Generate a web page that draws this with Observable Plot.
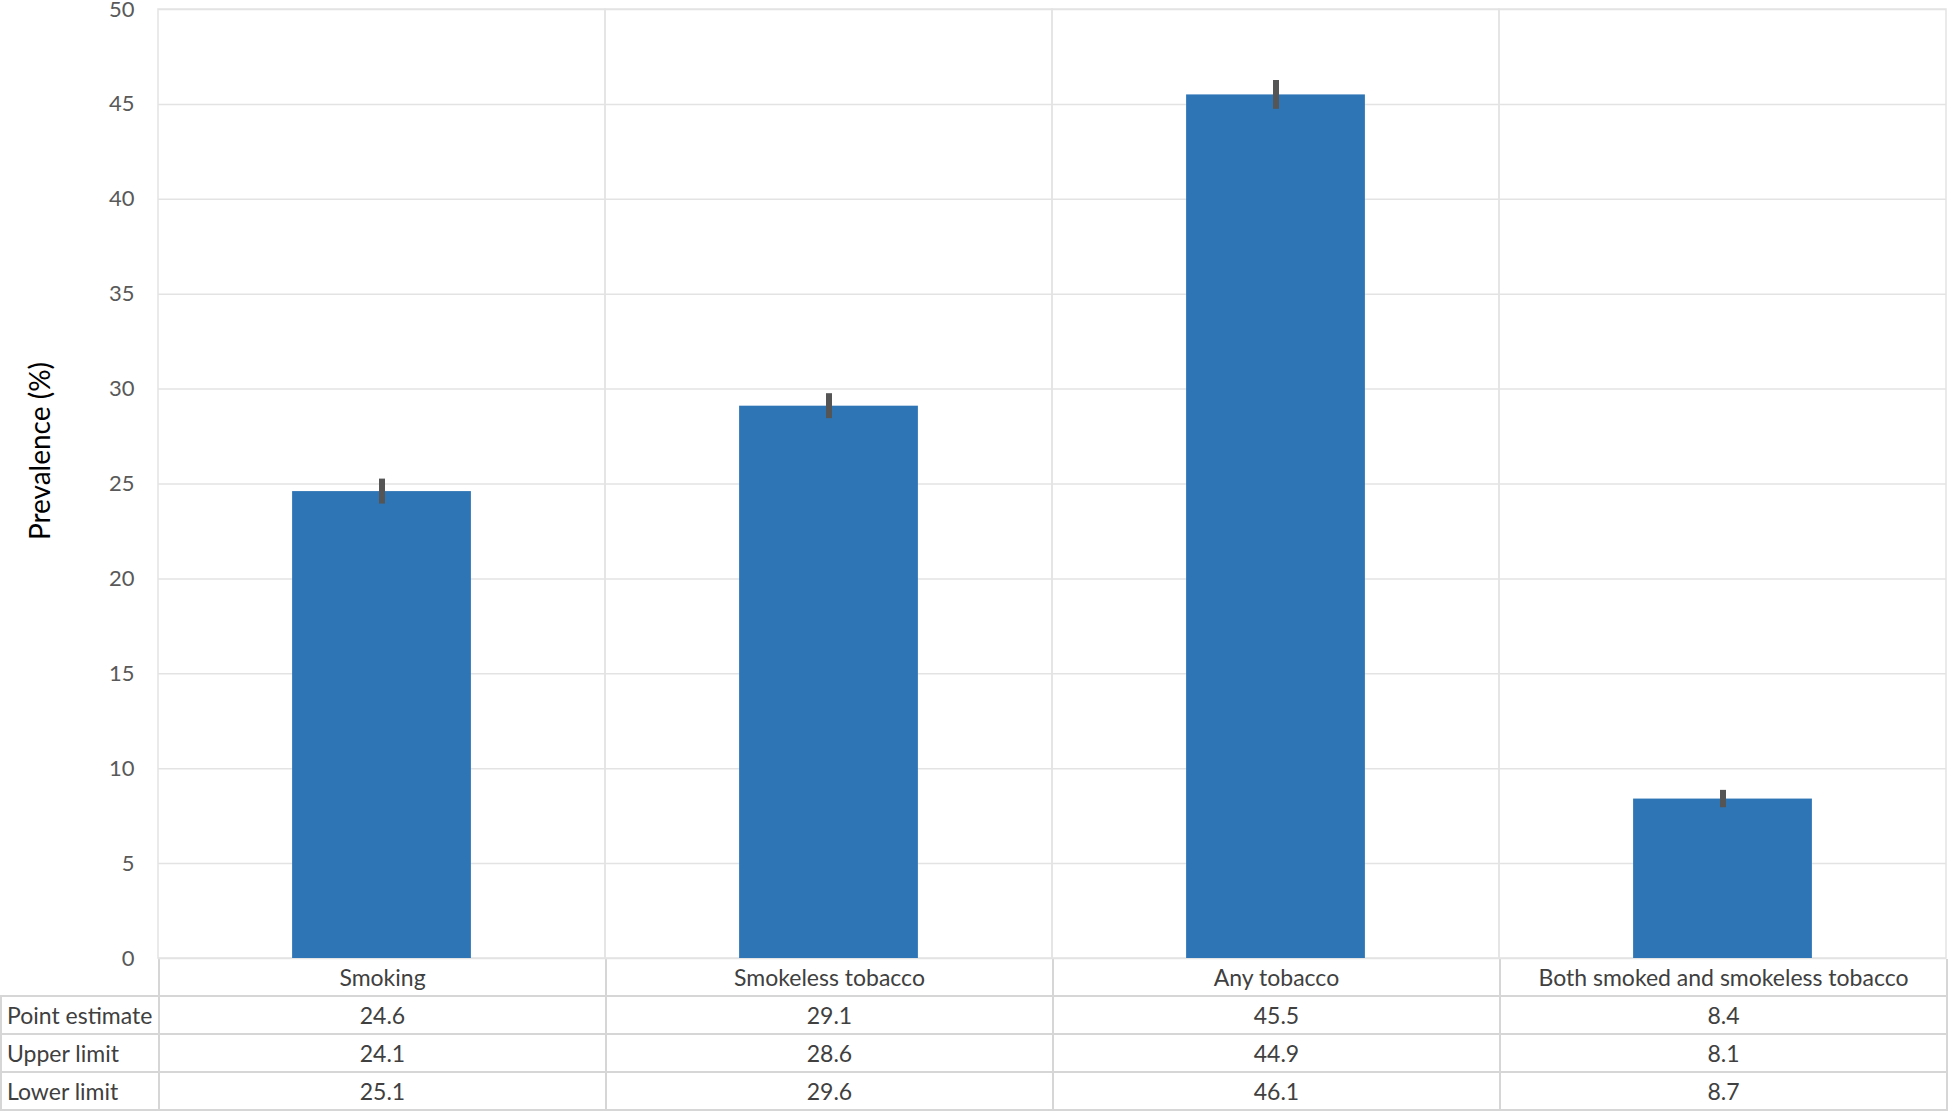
<!DOCTYPE html>
<html>
<head>
<meta charset="utf-8">
<script src="https://cdn.jsdelivr.net/npm/d3@7"></script>
<script src="https://cdn.jsdelivr.net/npm/@observablehq/plot@0.6"></script>
<style>
  html, body { margin: 0; padding: 0; background: #fff; }
  #chart { position: relative; width: 1948px; font-family: Lato, "Open Sans", sans-serif; }
  #chart svg { display: block; }
  #ylabel { position: absolute; left: 39px; top: 451px; transform: translate(-50%, -50%) rotate(-90deg); font-size: 28px; line-height: 1; color: #000; white-space: nowrap; font-family: Lato, "Open Sans", sans-serif; }
  table { border-collapse: collapse; table-layout: fixed; width: 1946px; font-family: Lato, "Open Sans", sans-serif; font-size: 23px; color: #404040; }
  td { border: 2px solid #d6d6d6; height: 36px; padding: 0; text-align: center; white-space: nowrap; overflow: hidden; }
  td.lab { text-align: left; padding-left: 5px; }
  td.blank { border: none; }
  tr.cat td { border-top: none; }
</style>
</head>
<body>
<div id="chart"></div>
<script>
// ---- data ----
const categories = ["Smoking", "Smokeless tobacco", "Any tobacco", "Both smoked and smokeless tobacco"];
const pointEstimate = [24.6, 29.1, 45.5, 8.4];
const upperLimit = [24.1, 28.6, 44.9, 8.1];
const lowerLimit = [25.1, 29.6, 46.1, 8.7];
const rowLabels = ["Point estimate", "Upper limit", "Lower limit"];
const yTicks = [0, 5, 10, 15, 20, 25, 30, 35, 40, 45, 50];
const yMax = 50;
const yLabel = "Prevalence (%)";

const data = categories.map((c, i) => ({
  category: c,
  point: pointEstimate[i],
  upper: upperLimit[i],
  lower: lowerLimit[i]
}));

// ---- layout ----
const W = 1948, mL = 158, mR = 2;
const step = (W - mL - mR) / categories.length;
const barInset = step * 0.3;
const gridColor = "#e3e3e3";

const plot = Plot.plot({
  width: W,
  height: 959,
  marginTop: 9,
  marginBottom: 1,
  marginLeft: mL,
  marginRight: mR,
  style: { fontFamily: "Lato, 'Open Sans', sans-serif", fontSize: "22px", color: "#595959", background: "#fff", overflow: "visible" },
  x: { domain: categories, padding: 0, axis: null },
  y: { domain: [0, yMax] },
  marks: [
    Plot.gridY(yTicks, { stroke: gridColor, strokeOpacity: 1, strokeWidth: 1.5 }),
    Plot.barY(categories, { x: d => d, y1: 0, y2: yMax, fill: "none", stroke: gridColor, strokeWidth: 1.5 }),
    Plot.barY(data, { x: "category", y: "point", fill: "#2E75B6", insetLeft: barInset, insetRight: barInset }),
    Plot.ruleX(data, { x: "category", y1: "upper", y2: "lower", stroke: "#555555", strokeWidth: 6, strokeLinecap: "square" }),
    Plot.axisY({ ticks: yTicks, tickSize: 0, tickPadding: 24, tickFormat: d => String(d), label: null })
  ]
});

const chart = document.getElementById("chart");
chart.appendChild(plot);

const lab = document.createElement("div");
lab.id = "ylabel";
lab.textContent = yLabel;
chart.appendChild(lab);

// ---- data table below the plot ----
const table = document.createElement("table");
const colgroup = document.createElement("colgroup");
const c0 = document.createElement("col"); c0.style.width = mL + "px"; colgroup.appendChild(c0);
categories.forEach(() => { const c = document.createElement("col"); c.style.width = step + "px"; colgroup.appendChild(c); });
table.appendChild(colgroup);

const catRow = document.createElement("tr");
catRow.className = "cat";
const blank = document.createElement("td"); blank.className = "blank"; catRow.appendChild(blank);
categories.forEach(c => { const td = document.createElement("td"); td.textContent = c; catRow.appendChild(td); });
table.appendChild(catRow);

[pointEstimate, upperLimit, lowerLimit].forEach((arr, r) => {
  const tr = document.createElement("tr");
  const l = document.createElement("td"); l.className = "lab"; l.textContent = rowLabels[r]; tr.appendChild(l);
  arr.forEach(v => { const td = document.createElement("td"); td.textContent = v.toFixed(1); tr.appendChild(td); });
  table.appendChild(tr);
});
chart.appendChild(table);
</script>
</body>
</html>
